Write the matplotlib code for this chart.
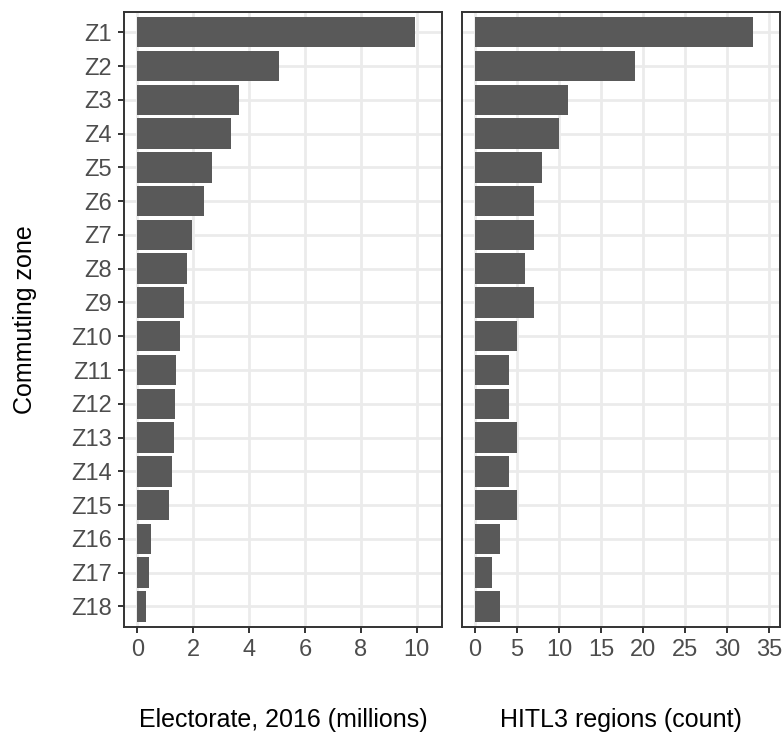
import numpy as np
import matplotlib
matplotlib.use("Agg")
import matplotlib.pyplot as plt

plt.rcParams['font.family'] = ['Liberation Sans', 'DejaVu Sans']

zones = ["Z%d" % i for i in range(1, 19)]
electorate = [9.94, 5.07, 3.64, 3.35, 2.67, 2.39, 1.96, 1.78, 1.67,
              1.53, 1.38, 1.35, 1.31, 1.24, 1.13, 0.49, 0.42, 0.31]
regions = [33, 19, 11, 10, 8, 7, 7, 6, 7, 5, 4, 4, 5, 4, 5, 3, 2, 3]

elect_ticks = [0, 2, 4, 6, 8, 10]
region_ticks = [0, 5, 10, 15, 20, 25, 30, 35]

W, H = 783, 736
BAR = "#595959"
GRID = "#EBEBEB"
FRAME = "#333333"
TICKTXT = "#4D4D4D"


def px_axes(fig, left, top, right, bottom):
    return fig.add_axes([left / W, 1 - bottom / H, (right - left) / W, (bottom - top) / H])


def style_panel(ax, xlim, xticks, show_y):
    pos = np.arange(len(zones))
    ax.set_ylim(len(zones) - 1 + 0.6, -0.6)
    ax.set_xlim(*xlim)
    ax.set_xticks(xticks)
    ax.set_xticklabels([str(t) for t in xticks])
    ax.set_yticks(pos)
    ax.set_axisbelow(True)
    ax.grid(True, color=GRID, linewidth=2.0)
    for s in ax.spines.values():
        s.set_color(FRAME)
        s.set_linewidth(1.4)
    ax.tick_params(axis='both', colors=FRAME, labelcolor=TICKTXT,
                   labelsize=17, width=1.4, length=4.5, pad=4)
    if show_y:
        ax.set_yticklabels(zones)
    else:
        ax.set_yticklabels([])
        ax.tick_params(axis='y', length=0)


fig = plt.figure(figsize=(W / 100, H / 100), dpi=100)

ax1 = px_axes(fig, 124, 12, 442, 626.7)
ax1.barh(np.arange(len(zones)), electorate, height=0.9, color=BAR)
style_panel(ax1, (-0.476, 10.905), elect_ticks, True)

ax2 = px_axes(fig, 462, 12, 780, 626.7)
ax2.barh(np.arange(len(zones)), regions, height=0.9, color=BAR)
style_panel(ax2, (-1.55, 36.27), region_ticks, False)

fig.text(283 / W, 1 - 727 / H, "Electorate, 2016 (millions)", ha='center',
         va='baseline', fontsize=18, color='black')
fig.text(621 / W, 1 - 727 / H, "HITL3 regions (count)", ha='center',
         va='baseline', fontsize=18, color='black')
fig.text(25 / W, 1 - 319.5 / H, "Commuting zone", ha='center', va='center',
         rotation=90, fontsize=18, color='black')

fig.savefig("out.png", dpi=100)
